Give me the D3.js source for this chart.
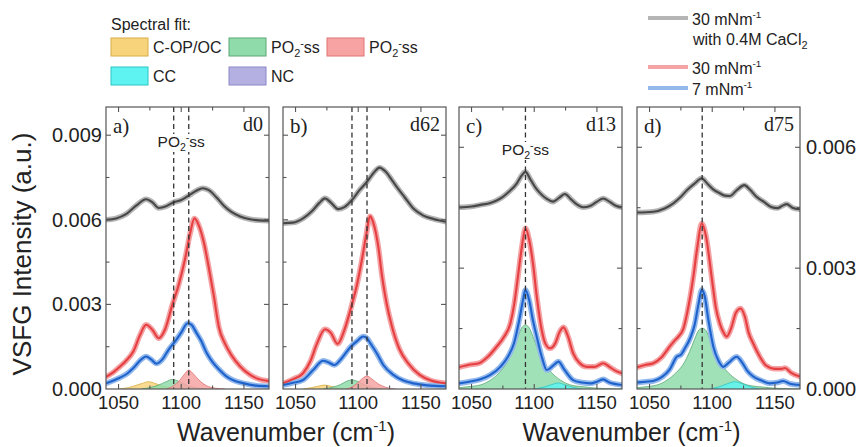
<!DOCTYPE html>
<html>
<head>
<meta charset="utf-8">
<script src="https://cdn.jsdelivr.net/npm/d3@7"></script>
<style>
  body { margin: 0; background: #fff; }
  svg { display: block; }
  text { font-family: Arial, "Liberation Sans", sans-serif; fill: #222; }
</style>
</head>
<body>
<svg id="chart" width="859" height="447"></svg>
<script>
// ---------- data ----------
const wnDomain = [1040, 1170];
const xTickValues = [1050, 1075, 1100, 1125, 1150];
const xTickLabels = [1050, 1100, 1150];
const panelLabels = ["a)", "b)", "c)", "d)"];
const sampleNames = ["d0", "d62", "d13", "d75"];
const yMaxLeft = 0.01;     // panels a, b
const yMaxRight = 0.007;   // panels c, d
const yTicksLeft = [0, 0.003, 0.006, 0.009];
const yTicksRight = [0, 0.003, 0.006];
const yMinorStep = 0.0015;

// [wavenumber, intensity] — 30 mN/m with 0.4 M CaCl2 (offset), 30 mN/m, 7 mN/m
const gray_a = [[1040,0.0060],[1048,0.00605],[1056,0.0062],[1064,0.0065],[1072,0.00673],[1077,0.00662],[1082,0.00642],[1088,0.00648],[1094,0.00662],[1100,0.0067],[1106,0.00686],[1112,0.00703],[1117,0.00712],[1122,0.00705],[1128,0.0068],[1134,0.0065],[1140,0.00628],[1147,0.00612],[1155,0.00602],[1162,0.00598],[1170,0.00597]];
const red_a = [[1040,0.00043],[1046,0.0006],[1051,0.00079],[1056,0.001],[1062,0.00135],[1067,0.0019],[1072,0.00228],[1077,0.0021],[1082,0.0018],[1087,0.0021],[1093,0.003],[1098,0.0037],[1103,0.0046],[1107,0.0055],[1110.5,0.00605],[1114,0.0058],[1118,0.0052],[1122,0.0043],[1126,0.0033],[1130,0.0022],[1135,0.0016],[1140,0.0012],[1147,0.0008],[1155,0.0005],[1162,0.00035],[1170,0.00028]];
const blue_a = [[1040,0.0002],[1046,0.0003],[1051,0.0004],[1057,0.00055],[1062,0.00075],[1067,0.001],[1072,0.00115],[1076,0.00105],[1080,0.0009],[1085,0.00105],[1090,0.0014],[1095,0.00168],[1100,0.002],[1105,0.00233],[1108,0.00228],[1112,0.002],[1116,0.0017],[1120,0.0013],[1125,0.00095],[1130,0.0007],[1136,0.00045],[1142,0.0003],[1150,0.0002],[1160,0.00012],[1170,0.0001]];

const gray_b = [[1040,0.00588],[1048,0.0059],[1056,0.00605],[1063,0.0063],[1069,0.0066],[1073.5,0.00676],[1078,0.00662],[1084,0.00638],[1089,0.00645],[1095,0.0067],[1101,0.00705],[1107,0.00735],[1112,0.00765],[1117,0.00785],[1122,0.0077],[1127,0.0074],[1131,0.00715],[1137,0.0068],[1144,0.0064],[1152,0.00615],[1160,0.00603],[1170,0.00593]];
const red_b = [[1040,0.0002],[1048,0.00035],[1056,0.00056],[1062,0.001],[1067,0.0016],[1073.5,0.00212],[1078,0.002],[1083.5,0.0016],[1089,0.0021],[1095,0.003],[1099,0.0037],[1103,0.0046],[1106.5,0.0055],[1109.4,0.00613],[1112,0.0059],[1116,0.00505],[1119,0.004],[1122.6,0.00304],[1127,0.0022],[1133,0.0014],[1140,0.0009],[1149,0.0005],[1158,0.0003],[1170,0.0002]];
const blue_b = [[1040,0.00014],[1048,0.00022],[1056,0.00032],[1064,0.00067],[1072,0.001],[1076,0.00095],[1081,0.00085],[1087,0.0011],[1094,0.0015],[1099,0.0017],[1104,0.00186],[1107,0.0018],[1110,0.0016],[1115,0.00125],[1120,0.00085],[1128,0.0005],[1136,0.0003],[1144,0.0002],[1155,0.00013],[1170,0.0001]];

const gray_c = [[1040,0.00451],[1050,0.00453],[1057,0.00457],[1065,0.00462],[1070,0.00468],[1075,0.00477],[1080,0.0049],[1086,0.0051],[1090,0.0053],[1093,0.00539],[1097,0.0052],[1101,0.005],[1105,0.00485],[1110,0.00472],[1115,0.00465],[1120,0.00475],[1124.5,0.00484],[1129,0.00472],[1134,0.00458],[1139,0.00451],[1145,0.00455],[1150,0.00465],[1155,0.00473],[1160,0.00465],[1165,0.00455],[1170,0.00451]];
const red_c = [[1040,0.00054],[1048,0.0006],[1056,0.00064],[1063,0.0008],[1070,0.00105],[1076,0.0013],[1081,0.00163],[1084,0.0021],[1087,0.00279],[1090,0.0035],[1093,0.00399],[1096,0.0037],[1099,0.00312],[1102,0.0023],[1106,0.00146],[1109,0.00112],[1112.6,0.00101],[1117,0.00115],[1120,0.0014],[1123.3,0.00153],[1127,0.0013],[1131,0.00089],[1136,0.00065],[1142,0.00055],[1148,0.00055],[1155,0.00064],[1160,0.00055],[1165,0.00045],[1170,0.00039]];
const blue_c = [[1040,0.00014],[1048,0.00018],[1057,0.00024],[1065,0.00035],[1073,0.00055],[1079,0.0008],[1084,0.00115],[1088,0.0017],[1091,0.0022],[1093,0.00246],[1096,0.0022],[1099,0.0017],[1102,0.0013],[1106,0.0008],[1110,0.00047],[1115,0.00058],[1119.3,0.00068],[1124,0.00048],[1131,0.00022],[1138,0.00016],[1145,0.00014],[1150,0.00018],[1155,0.00024],[1160,0.00016],[1170,0.0001]];

const gray_d = [[1040,0.00438],[1053,0.0044],[1062,0.00448],[1069,0.00461],[1075,0.00477],[1080,0.00494],[1086,0.0051],[1091.6,0.00523],[1096,0.0051],[1101,0.00495],[1106,0.00486],[1110,0.0048],[1114,0.00479],[1120,0.00495],[1125.6,0.00506],[1130,0.00495],[1135,0.00478],[1141,0.00465],[1147,0.00452],[1152,0.00449],[1156,0.00455],[1159.4,0.00459],[1164,0.0045],[1170,0.00446]];
const red_d = [[1040,0.00054],[1047,0.0006],[1053,0.00064],[1060,0.0008],[1066,0.00105],[1070,0.0012],[1073,0.0013],[1077,0.0015],[1081,0.00204],[1085,0.0028],[1088,0.0035],[1091.6,0.00411],[1095,0.0038],[1099.5,0.00279],[1103,0.002],[1106,0.00163],[1109,0.0014],[1111.4,0.0013],[1115,0.0015],[1119,0.0019],[1122.6,0.002],[1126,0.0018],[1129,0.0014],[1132.7,0.00113],[1138,0.0008],[1143,0.00058],[1150,0.0005],[1155,0.0005],[1158,0.00052],[1163,0.0004],[1170,0.00031]];
const blue_d = [[1040,0.00016],[1047,0.00018],[1053,0.0002],[1060,0.0003],[1066,0.00048],[1071.7,0.0008],[1075,0.00085],[1078,0.001],[1082.4,0.00126],[1086,0.0016],[1089,0.0021],[1091.6,0.00246],[1094,0.0023],[1097,0.0017],[1100.9,0.00105],[1105,0.0007],[1108.8,0.00055],[1113,0.00065],[1119.5,0.0008],[1124,0.00065],[1128,0.00045],[1132.7,0.00031],[1140,0.0002],[1146,0.00014],[1152,0.00016],[1156.6,0.0002],[1162,0.00013],[1170,0.0001]];

// fitted components of the 7 mN/m spectra
const copoc_a = [[1050,0],[1058,0.00005],[1064,0.00013],[1069,0.0002],[1074,0.00026],[1079,0.0002],[1084,0.00012],[1090,0.00005],[1098,0]];
const po2Green_a = [[1068,0],[1076,0.00006],[1082,0.00014],[1088,0.00026],[1093,0.00034],[1098,0.00027],[1104,0.00014],[1110,0.00006],[1118,0]];
const po2Red_a = [[1088,0],[1094,0.00012],[1099,0.00032],[1103,0.00055],[1106,0.00067],[1110,0.00052],[1115,0.00028],[1120,0.00012],[1127,0.00003],[1135,0]];
const copoc_b = [[1056,0],[1063,0.00005],[1068,0.0001],[1073,0.00014],[1078,0.0001],[1083,0.00005],[1090,0]];
const po2Green_b = [[1072,0],[1080,0.00007],[1086,0.00016],[1091,0.00028],[1095,0.00032],[1100,0.00026],[1105,0.00015],[1112,0.00005],[1120,0]];
const po2Red_b = [[1090,0],[1096,0.0001],[1101,0.00028],[1104,0.0004],[1107,0.00046],[1111,0.00035],[1116,0.00018],[1122,0.00006],[1130,0]];
const po2Green_c = [[1040,0.00003],[1045,0.00005],[1057,0.0001],[1065,0.00022],[1072,0.0004],[1078,0.00065],[1083,0.00098],[1087,0.0013],[1090,0.00152],[1093,0.00159],[1096,0.00152],[1099,0.0013],[1103,0.00098],[1108,0.00065],[1114,0.0004],[1121,0.00022],[1129,0.0001],[1141,0.00005],[1150,0.00002],[1170,0]];
const cc_c = [[1100,0],[1108,0.00005],[1114,0.00011],[1119,0.00015],[1124,0.00011],[1130,0.00005],[1138,0]];
const po2Green_d = [[1040,0.00003],[1045,0.00005],[1056,0.0001],[1064,0.00022],[1071,0.0004],[1077,0.00062],[1082,0.00093],[1086,0.00124],[1089,0.00145],[1092,0.00151],[1095,0.00145],[1098,0.00124],[1102,0.00093],[1107,0.00062],[1113,0.0004],[1120,0.00022],[1128,0.0001],[1140,0.00005],[1150,0.00002],[1170,0]];
const cc_d = [[1098,0],[1106,0.00006],[1112,0.00013],[1118,0.00018],[1124,0.00013],[1130,0.00006],[1138,0]];

// dashed guide positions (cm-1)
const guides_a = [1094, 1106];
const guides_b = [1095, 1107];
const guides_c = [1093];
const guides_d = [1092];

// legend entries
const fitNames = ["C-OP/OC", "PO2ss", "PO2ss", "CC", "NC"];
const traceNames = ["30 mNm-1 with 0.4M CaCl2", "30 mNm-1", "7 mNm-1"];

// ---------- styles ----------
const fillStyle = {
  copoc: { fill: "#f7d47c", stroke: "#d8ae46" },
  green: { fill: "#8fdcaa", stroke: "#5aa877" },
  red:   { fill: "#f7a3a3", stroke: "#e07474" },
  cc:    { fill: "#5ef3f0", stroke: "#2cc6c6" },
  nc:    { fill: "#b4b0e2", stroke: "#8c87c8" }
};
const traceStyle = {
  gray: { raw: "#b5b5b5", fit: "#474747" },
  red:  { raw: "#f4a3a5", fit: "#e53f42" },
  blue: { raw: "#92b8ec", fit: "#1e62cc" }
};
const serif = "'Liberation Serif', 'Times New Roman', serif";

const panels = [
  { gray: gray_a, red: red_a, blue: blue_a, yMax: yMaxLeft, guides: guides_a, labelPO2: true,
    comps: [[copoc_a, "copoc"], [po2Green_a, "green"], [po2Red_a, "red"]] },
  { gray: gray_b, red: red_b, blue: blue_b, yMax: yMaxLeft, guides: guides_b, labelPO2: false,
    comps: [[copoc_b, "copoc"], [po2Green_b, "green"], [po2Red_b, "red"]] },
  { gray: gray_c, red: red_c, blue: blue_c, yMax: yMaxRight, guides: guides_c, labelPO2: true,
    comps: [[po2Green_c, "green"], [cc_c, "cc"]] },
  { gray: gray_d, red: red_d, blue: blue_d, yMax: yMaxRight, guides: guides_d, labelPO2: false,
    comps: [[po2Green_d, "green"], [cc_d, "cc"]] }
];

// ---------- layout ----------
const panelLeft = [106, 283, 459, 637];
const panelW = 163;
const panelTop = 107, panelBottom = 389;

const svg = d3.select("#chart");
const defs = svg.append("defs");

function po2Text(sel) {
  sel.append("tspan").text("PO");
  sel.append("tspan").attr("font-size", "0.68em").attr("dy", 4).text("2");
  sel.append("tspan").attr("font-size", "0.68em").attr("dy", -10).text("-");
  sel.append("tspan").attr("dy", 6).text("ss");
}

panels.forEach((p, i) => {
  const x0 = panelLeft[i];
  const x = d3.scaleLinear().domain(wnDomain).range([x0, x0 + panelW]);
  const y = d3.scaleLinear().domain([0, p.yMax]).range([panelBottom, panelTop]);
  const g = svg.append("g");

  defs.append("clipPath").attr("id", "clip" + i)
    .append("rect").attr("x", x0).attr("y", panelTop).attr("width", panelW).attr("height", panelBottom - panelTop);

  const plot = g.append("g").attr("clip-path", `url(#clip${i})`);

  // fit components
  const area = d3.area().x(d => x(d[0])).y0(y(0)).y1(d => y(d[1])).curve(d3.curveMonotoneX);
  const edge = d3.line().x(d => x(d[0])).y(d => y(d[1])).curve(d3.curveMonotoneX);
  p.comps.forEach(([data, key]) => {
    plot.append("path").attr("d", area(data))
      .attr("fill", fillStyle[key].fill).attr("fill-opacity", 0.85).attr("stroke", "none");
    plot.append("path").attr("d", edge(data))
      .attr("fill", "none").attr("stroke", fillStyle[key].stroke).attr("stroke-width", 0.8);
  });

  // measured spectra (light, broad) and fits (dark)
  const line = d3.line().x(d => x(d[0])).y(d => y(d[1])).curve(d3.curveMonotoneX);
  ["gray", "red", "blue"].forEach(k => {
    plot.append("path").attr("d", line(p[k])).attr("fill", "none")
      .attr("stroke", traceStyle[k].raw).attr("stroke-width", 5.5)
      .attr("stroke-linejoin", "round").attr("stroke-linecap", "round");
  });
  ["gray", "red", "blue"].forEach(k => {
    plot.append("path").attr("d", line(p[k])).attr("fill", "none")
      .attr("stroke", traceStyle[k].fit).attr("stroke-width", 2.1)
      .attr("stroke-linejoin", "round");
  });

  // dashed guides
  p.guides.forEach(w => {
    g.append("line").attr("x1", x(w)).attr("x2", x(w)).attr("y1", panelTop).attr("y2", panelBottom)
      .attr("stroke", "#333").attr("stroke-width", 1.3).attr("stroke-dasharray", "5,3.5");
  });

  // PO2- ss label with white backing
  if (p.labelPO2) {
    const cx = d3.mean(p.guides, w => x(w));
    const by = i === 0 ? 147 : 155;
    g.append("rect").attr("x", cx - 25).attr("y", by - 13).attr("width", 50).attr("height", 18).attr("fill", "#fff");
    const t = g.append("text").attr("x", cx).attr("y", by).attr("text-anchor", "middle")
      .attr("font-size", 15.5);
    po2Text(t);
  }

  // frame
  g.append("rect").attr("x", x0).attr("y", panelTop).attr("width", panelW).attr("height", panelBottom - panelTop)
    .attr("fill", "none").attr("stroke", "#555").attr("stroke-width", 1.2);

  // ticks (inward on all four sides)
  const tickG = g.append("g").attr("stroke", "#555").attr("stroke-width", 1.1);
  xTickValues.forEach(w => {
    const len = xTickLabels.includes(w) ? 5 : 3.5;
    tickG.append("line").attr("x1", x(w)).attr("x2", x(w)).attr("y1", panelBottom).attr("y2", panelBottom - len);
    tickG.append("line").attr("x1", x(w)).attr("x2", x(w)).attr("y1", panelTop).attr("y2", panelTop + len);
  });
  const yt = d3.range(yMinorStep, p.yMax, yMinorStep);
  yt.forEach(v => {
    const major = Math.abs(v / 0.003 - Math.round(v / 0.003)) < 1e-6;
    const len = major ? 5 : 3.5;
    tickG.append("line").attr("x1", x0).attr("x2", x0 + len).attr("y1", y(v)).attr("y2", y(v));
    tickG.append("line").attr("x1", x0 + panelW).attr("x2", x0 + panelW - len).attr("y1", y(v)).attr("y2", y(v));
  });

  // x tick labels
  xTickLabels.forEach(w => {
    g.append("text").attr("x", x(w)).attr("y", 409).attr("text-anchor", "middle")
      .attr("font-size", 18.5).text(w);
  });

  // y tick labels on outer panels
  if (i === 0) {
    yTicksLeft.forEach(v => {
      g.append("text").attr("x", x0 - 4).attr("y", y(v) + 7).attr("text-anchor", "end")
        .attr("font-size", 20).text(d3.format(".3f")(v));
    });
  }
  if (i === 3) {
    yTicksRight.forEach(v => {
      g.append("text").attr("x", x0 + panelW + 6).attr("y", y(v) + 7).attr("text-anchor", "start")
        .attr("font-size", 20).text(d3.format(".3f")(v));
    });
  }

  // panel letter and sample name
  g.append("text").attr("x", x0 + 7).attr("y", 133).style("font-family", serif)
    .attr("font-size", 21).text(panelLabels[i]);
  g.append("text").attr("x", x0 + panelW - 6).attr("y", 131).attr("text-anchor", "end")
    .style("font-family", serif).attr("font-size", 20).text(sampleNames[i]);
});

// axis titles
svg.append("text").attr("transform", "translate(31,254) rotate(-90)")
  .attr("text-anchor", "middle").attr("font-size", 26).text("VSFG Intensity (a.u.)");

function wnTitle(cx) {
  const t = svg.append("text").attr("x", cx).attr("y", 441).attr("text-anchor", "middle").attr("font-size", 25);
  t.append("tspan").text("Wavenumber (cm");
  t.append("tspan").attr("font-size", "0.6em").attr("dy", -10).text("-1");
  t.append("tspan").attr("dy", 10).text(")");
}
wnTitle((panelLeft[0] + panelLeft[1] + panelW) / 2 + 10);
wnTitle((panelLeft[2] + panelLeft[3] + panelW) / 2 + 2);

// ---------- legends ----------
const leg = svg.append("g");
leg.append("text").attr("x", 111).attr("y", 30).attr("font-size", 16).text("Spectral fit:");
const fitKeys = ["copoc", "green", "red", "cc", "nc"];
const fitPos = [[111, 38], [229, 38], [327, 38], [111, 67], [229, 67]];
fitNames.forEach((name, k) => {
  const [sx, sy] = fitPos[k];
  leg.append("rect").attr("x", sx).attr("y", sy).attr("width", 37).attr("height", 18)
    .attr("fill", fillStyle[fitKeys[k]].fill).attr("stroke", fillStyle[fitKeys[k]].stroke).attr("stroke-width", 1);
  const t = leg.append("text").attr("x", sx + 42).attr("y", sy + 15).attr("font-size", 16);
  if (name === "PO2ss") po2Text(t); else t.text(name);
});

const traceKeys = ["gray", "red", "blue"];
const traceY = [18, 67, 88];
traceKeys.forEach((k, j) => {
  leg.append("line").attr("x1", 648).attr("x2", 688).attr("y1", traceY[j]).attr("y2", traceY[j])
    .attr("stroke", traceStyle[k].raw).attr("stroke-width", 4);
  const parts = traceNames[j].split(" with ");
  const m = parts[0].match(/^(.*mNm)(-1)$/);
  const t = leg.append("text").attr("x", 692).attr("y", traceY[j] + 7).attr("font-size", 16);
  t.append("tspan").text(m[1]);
  t.append("tspan").attr("font-size", "0.62em").attr("dy", -7).text(m[2]);
  if (parts[1]) {
    const t2 = leg.append("text").attr("x", 693).attr("y", 45).attr("font-size", 16);
    const mm = ("with " + parts[1]).match(/^(.*CaCl)(2)$/);
    t2.append("tspan").text(mm[1]);
    t2.append("tspan").attr("font-size", "0.68em").attr("dy", 4).text(mm[2]);
  }
});
</script>
</body>
</html>
